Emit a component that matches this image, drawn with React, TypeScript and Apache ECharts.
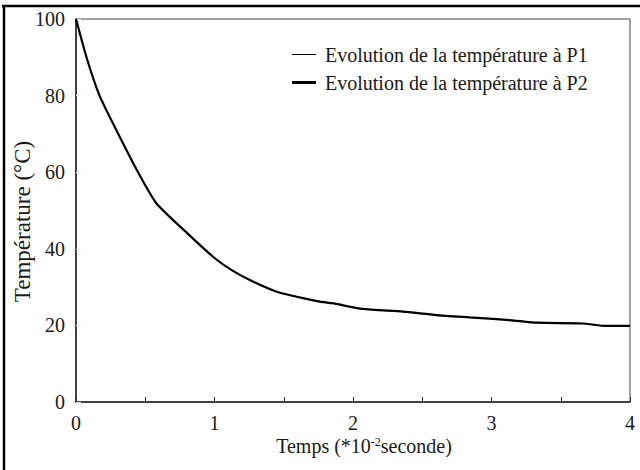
import React, { useEffect, useRef } from "react";
import * as echarts from "echarts";

const timeValues = [0, 0.08, 0.17, 0.27, 0.44, 0.58, 0.82, 1.0, 1.13, 1.28, 1.45, 1.76, 1.85, 2.07, 2.36, 2.6, 2.84, 3.13, 3.33, 3.66, 3.81, 4.0];
const tempP1 = [100, 89.5, 80, 72.5, 60.5, 51.9, 43.5, 37.6, 34.3, 31.4, 28.8, 26.2, 25.8, 24.3, 23.6, 22.7, 22.1, 21.4, 20.7, 20.5, 19.9, 19.9];
const tempP2 = [100, 89.5, 80, 72.5, 60.5, 51.9, 43.5, 37.6, 34.3, 31.4, 28.8, 26.2, 25.8, 24.3, 23.6, 22.7, 22.1, 21.4, 20.7, 20.5, 19.9, 19.9];
const seriesNames = ["Evolution de la température à P1", "Evolution de la température à P2"];
const xTickLabels = ["0", "1", "2", "3", "4"];

const FONT = "'Liberation Serif', 'Times New Roman', Times, serif";

export default function App() {
  const ref = useRef<HTMLDivElement>(null);
  useEffect(() => {
    document.body.style.margin = "0";
    if (!ref.current) return;
    const chart = echarts.init(ref.current, null, { renderer: "svg" });
    const p1 = timeValues.map((t, i) => [t, tempP1[i]]);
    const p2 = timeValues.map((t, i) => [t, tempP2[i]]);
    chart.setOption({
      animation: false,
      backgroundColor: "#fff",
      grid: {
        left: 76,
        top: 19,
        right: 10,
        bottom: 68,
        show: true,
        borderColor: "#444",
        borderWidth: 1,
        containLabel: false,
        outerBoundsMode: "none",
      },
      legend: {
        left: 287,
        top: 39,
        orient: "vertical",
        itemWidth: 24,
        itemHeight: 14,
        itemGap: 7,
        data: [
          { name: seriesNames[0], icon: "path://M0,0H24V1H0Z" },
          { name: seriesNames[1], icon: "path://M0,0H24V3H0Z" },
        ],
        textStyle: {
          fontFamily: FONT,
          fontSize: 20,
          color: "#1a1a1a",
          lineHeight: 21,
          padding: [0, 0, 0, 4],
        },
      },
      xAxis: {
        type: "value",
        min: 0,
        max: 4,
        interval: 0.5,
        axisLine: { lineStyle: { color: "#222", width: 1.5 } },
        axisTick: { inside: true, length: 5, lineStyle: { color: "#333" } },
        splitLine: { show: false },
        axisLabel: {
          margin: 11,
          fontFamily: FONT,
          fontSize: 20,
          color: "#1a1a1a",
          formatter: (v: number) => {
            const idx = xTickLabels.indexOf(String(v));
            return idx >= 0 ? xTickLabels[idx] : "";
          },
        },
        name: "Temps (*10{sup|-2}seconde)",
        nameLocation: "middle",
        nameGap: 34,
        nameMoveOverlap: false,
        nameTextStyle: {
          fontFamily: FONT,
          fontSize: 20,
          color: "#1a1a1a",
          padding: [0, 0, 0, 22],
          rich: {
            sup: { fontFamily: FONT, fontSize: 12, verticalAlign: "top", padding: [0, 0, 8, 0], color: "#1a1a1a" },
          },
        },
      },
      yAxis: {
        type: "value",
        min: 0,
        max: 100,
        interval: 20,
        axisLine: { show: true, lineStyle: { color: "#222", width: 1.5 } },
        axisTick: { show: true, inside: true, length: 5, lineStyle: { color: "#e6e6e6" } },
        splitLine: { show: false },
        axisLabel: {
          margin: 11,
          fontFamily: FONT,
          fontSize: 20,
          color: "#1a1a1a",
        },
        name: "Température (°C)",
        nameLocation: "middle",
        nameGap: 42,
        nameMoveOverlap: false,
        nameTextStyle: {
          fontFamily: FONT,
          fontSize: 23,
          color: "#1a1a1a",
          padding: [0, 22, 0, 0],
        },
      },
      series: [
        {
          name: seriesNames[0],
          type: "line",
          data: p1,
          symbol: "none",
          showSymbol: false,
          smooth: 0.2,
          lineStyle: { color: "#000", width: 1 },
          itemStyle: { color: "#000" },
        },
        {
          name: seriesNames[1],
          type: "line",
          data: p2,
          symbol: "none",
          showSymbol: false,
          smooth: 0.2,
          lineStyle: { color: "#000", width: 2.2 },
          itemStyle: { color: "#000" },
        },
      ],
      graphic: [
        { type: "line", shape: { x1: 2, y1: 6, x2: 640, y2: 6 }, style: { stroke: "#000", lineWidth: 2.5 } },
        { type: "line", shape: { x1: 4, y1: 5, x2: 4, y2: 470 }, style: { stroke: "#000", lineWidth: 2.5 } },
      ],
    });
    return () => chart.dispose();
  }, []);
  return (
    <div
      ref={ref}
      style={{ position: "absolute", left: 0, top: 0, width: 640, height: 470 }}
    />
  );
}
